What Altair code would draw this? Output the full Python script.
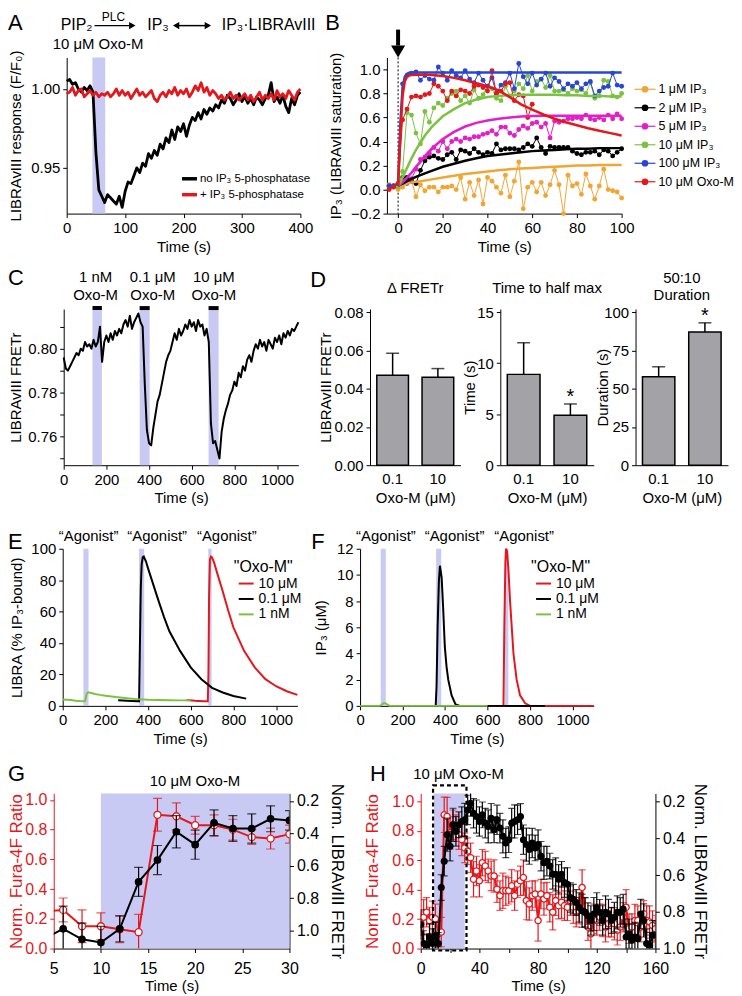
import altair as alt
import pandas as pd

FONT = "Liberation Sans"
RED = "#e2181c"
LAV = "#c9caf3"
GRAY = "#a3a3a7"
GREEN = "#7cc242"
ORANGE = "#f0a634"
MAGENTA = "#e021c6"
BLUE = "#2846d2"

# ---------------- data ----------------
A_T = list(range(0, 401, 5))
A_NO_PPT = [1.005, 1.006, 1.003, 1.004, 1.000, 0.998, 1.001, 0.999, 1.002, 0.998,
            0.960, 0.936, 0.932, 0.928, 0.933, 0.931, 0.929, 0.927, 0.932, 0.925,
            0.935, 0.941, 0.940, 0.945, 0.950, 0.947, 0.953, 0.951, 0.959, 0.956,
            0.961, 0.958, 0.965, 0.962, 0.969, 0.966, 0.974, 0.968, 0.976, 0.973,
            0.978, 0.970, 0.977, 0.982, 0.980, 0.985, 0.981, 0.987, 0.984, 0.988,
            0.986, 0.990, 0.988, 0.993, 0.991, 0.996, 0.994, 0.990, 0.993, 0.997,
            0.992, 0.995, 0.991, 0.994, 0.990, 0.995, 0.993, 0.990, 0.994, 0.996,
            1.004, 0.992, 0.995, 0.991, 0.996, 0.989, 0.985, 0.994, 0.990, 0.996,
            0.998]
A_PPT = [0.997, 0.998, 1.001, 0.996, 0.999, 1.000, 0.995, 0.997, 0.999, 0.996,
         0.998, 0.995, 0.997, 0.996, 0.998, 0.995, 0.997, 1.000, 0.996, 0.999,
         0.996, 0.998, 0.994, 0.997, 1.000, 0.996, 0.998, 0.995, 0.997, 0.999,
         0.994, 0.992, 0.996, 0.998, 0.995, 0.999, 0.997, 1.001, 0.996, 0.999,
         0.997, 1.000, 0.995, 0.998, 1.002, 0.999, 1.004, 0.998, 1.001, 0.996,
         0.999, 0.997, 0.994, 0.996, 0.993, 0.995, 0.998, 0.994, 0.996, 0.993,
         0.995, 0.997, 0.993, 0.996, 0.992, 0.995, 0.998, 0.993, 0.996, 0.994,
         0.997, 0.993, 0.999, 0.995, 0.997, 0.994, 0.999, 0.996, 0.993, 0.998,
         1.000]
A_STIM = [44, 66]

B_T = list(range(-4, 101, 2))
B_NAMES = ["1 μM IP₃", "2 μM IP₃", "5 μM IP₃", "10 μM IP₃", "100 μM IP₃", "10 μM Oxo-M"]
B_COLORS = [ORANGE, "black", MAGENTA, GREEN, BLUE, RED]
B_1UM = [0.04, 0.03, 0.00, 0.02, 0.06, 0.08, -0.06, 0.04, -0.01, 0.02,
         0.02, -0.02, 0.02, 0.02, 0.03, 0.00, 0.10, -0.08, 0.06, -0.05,
         0.08, -0.12, 0.10, 0.07, 0.02, -0.03, 0.12, -0.06, 0.07, 0.23,
         -0.16, 0.02, 0.06, -0.02, 0.06, -0.05, 0.04, 0.16, 0.04, -0.20,
         0.12, 0.03, 0.05, -0.04, 0.13, 0.03, -0.08, 0.03, 0.17, 0.00,
         -0.01, -0.02, -0.07]
B_2UM = [0.03, 0.03, 0.04, 0.10, 0.10, 0.07, 0.05, 0.16, 0.24, 0.27,
         0.28, 0.26, 0.25, 0.29, 0.31, 0.25, 0.33, 0.32, 0.30, 0.34,
         0.31, 0.29, 0.31, 0.30, 0.38, 0.33, 0.34, 0.34, 0.34, 0.33,
         0.35, 0.38, 0.36, 0.43, 0.35, 0.30, 0.36, 0.35, 0.35, 0.35,
         0.35, 0.32, 0.30, 0.29, 0.31, 0.31, 0.32, 0.29, 0.33, 0.32,
         0.28, 0.31, 0.34]
B_5UM = [0.03, 0.03, 0.05, 0.06, 0.05, 0.09, 0.17, 0.25, 0.27, 0.30,
         0.35, 0.32, 0.40, 0.34, 0.40, 0.42, 0.40, 0.43, 0.42, 0.44,
         0.44, 0.46, 0.47, 0.49, 0.46, 0.52, 0.52, 0.47, 0.45, 0.50,
         0.53, 0.51, 0.55, 0.56, 0.52, 0.55, 0.43, 0.57, 0.56, 0.57,
         0.59, 0.59, 0.60, 0.59, 0.62, 0.59, 0.58, 0.60, 0.58, 0.62,
         0.59, 0.63, 0.59]
B_10UM = [0.03, 0.03, 0.02, 0.15, 0.64, 0.62, 0.47, 0.38, 0.65, 0.56,
          0.68, 0.72, 0.70, 0.76, 0.80, 0.82, 0.74, 0.78, 0.72, 0.83,
          0.76, 0.79, 0.86, 0.84, 0.76, 0.74, 0.86, 0.78, 0.82, 0.88,
          0.84, 0.95, 0.82, 0.90, 0.92, 0.85, 0.95, 0.82, 0.82, 0.83,
          0.80, 0.84, 0.82, 0.83, 0.80, 0.89, 0.76, 0.78, 0.91, 0.90,
          0.78, 0.77, 0.80]
B_100UM = [0.03, 0.03, 0.05, 0.88, 0.95, 0.97, 0.98, 0.91, 0.95, 0.92,
           0.91, 1.02, 0.97, 0.91, 0.99, 0.95, 0.93, 0.99, 0.92, 0.89,
           0.97, 0.91, 0.86, 0.93, 0.80, 0.87, 0.89, 0.97, 0.84, 1.05,
           0.94, 0.88, 0.97, 0.87, 0.92, 0.97, 0.86, 0.93, 0.90, 0.84,
           0.88, 0.86, 0.89, 0.84, 0.88, 0.90, 0.78, 0.82, 0.85, 0.86,
           0.97, 0.87, 0.86]
B_OXO = [0.00, 0.02, 0.05, 0.58, 0.67, 0.77, 0.78, 0.77, 0.79, 0.80,
         0.88, 0.86, 0.82, 0.74, 0.82, 0.78, 0.83, 0.82, 0.80, 0.86,
         0.87, 0.85, 0.82, 0.99, 0.80, 0.82, 0.88, 0.89, 0.74, 0.79,
         0.78, 0.60, 0.71]
B_FIT_T = [0, 1, 2, 3, 4, 5, 6, 8, 10, 12, 15, 20, 25, 30, 35, 40, 45, 50, 55, 60,
           65, 70, 75, 80, 85, 90, 95, 100]
B_FIT_1UM = [0.03, 0.035, 0.04, 0.045, 0.05, 0.055, 0.06, 0.065, 0.07, 0.075,
             0.085, 0.10, 0.115, 0.13, 0.14, 0.15, 0.16, 0.17, 0.175, 0.18,
             0.185, 0.19, 0.195, 0.20, 0.20, 0.205, 0.205, 0.205]
B_FIT_2UM = [0.03, 0.04, 0.05, 0.06, 0.07, 0.08, 0.09, 0.105, 0.12, 0.135,
             0.155, 0.19, 0.215, 0.24, 0.26, 0.28, 0.29, 0.30, 0.31, 0.32,
             0.325, 0.33, 0.335, 0.34, 0.34, 0.345, 0.345, 0.345]
B_FIT_5UM = [0.03, 0.04, 0.06, 0.08, 0.10, 0.12, 0.14, 0.19, 0.23, 0.28,
             0.34, 0.42, 0.48, 0.525, 0.555, 0.575, 0.59, 0.60, 0.608, 0.612,
             0.615, 0.615, 0.615, 0.615, 0.615, 0.615, 0.615, 0.615]
B_FIT_10UM = [0.03, 0.06, 0.10, 0.14, 0.18, 0.22, 0.26, 0.33, 0.39, 0.45,
              0.52, 0.61, 0.67, 0.72, 0.75, 0.77, 0.78, 0.785, 0.79, 0.79,
              0.79, 0.79, 0.785, 0.785, 0.78, 0.78, 0.775, 0.775]
B_FIT_100UM = [0.03, 0.55, 0.85, 0.94, 0.965, 0.972, 0.975, 0.975, 0.975, 0.975,
               0.975, 0.975, 0.975, 0.975, 0.975, 0.975, 0.975, 0.975, 0.975, 0.975,
               0.975, 0.975, 0.975, 0.975, 0.975, 0.975, 0.975, 0.975]
B_FIT_OXO = [0.03, 0.45, 0.78, 0.90, 0.94, 0.95, 0.953, 0.955, 0.955, 0.955,
             0.953, 0.945, 0.93, 0.91, 0.885, 0.86, 0.825, 0.77, 0.71, 0.665,
             0.625, 0.59, 0.56, 0.535, 0.51, 0.49, 0.47, 0.45]

C_T = list(range(0, 1101, 10))
C_FRET = [0.796, 0.791, 0.790, 0.792, 0.794, 0.796, 0.798, 0.797, 0.800, 0.799,
          0.803, 0.801, 0.802, 0.800, 0.804, 0.801, 0.803, 0.810, 0.794, 0.803,
          0.806, 0.803, 0.807, 0.804, 0.808, 0.806, 0.809, 0.807, 0.811, 0.813,
          0.810, 0.815, 0.809, 0.812, 0.814, 0.816, 0.812, 0.810, 0.784, 0.763,
          0.757, 0.756, 0.764, 0.770, 0.776, 0.779, 0.784, 0.789, 0.794, 0.797,
          0.799, 0.803, 0.807, 0.804, 0.809, 0.806, 0.808, 0.811, 0.809, 0.813,
          0.810, 0.812, 0.808, 0.813, 0.810, 0.811, 0.806, 0.809, 0.803, 0.766,
          0.757, 0.758, 0.754, 0.750, 0.762, 0.768, 0.772, 0.775, 0.779, 0.781,
          0.785, 0.783, 0.789, 0.787, 0.792, 0.790, 0.795, 0.797, 0.794, 0.799,
          0.802, 0.800, 0.804, 0.801, 0.803, 0.799, 0.804, 0.802, 0.800, 0.805,
          0.803, 0.806, 0.802, 0.807, 0.805, 0.808, 0.806, 0.809, 0.808, 0.810,
          0.812]
C_STIM_START = [135, 356, 679]
C_STIM_END = [179, 403, 726]
C_STIM_LABEL = ["1 nM\nOxo-M", "0.1 μM\nOxo-M", "10 μM\nOxo-M"]

D_GROUPS = ["0.1", "10"]
D_DFRET = [0.047, 0.046]
D_DFRET_ERR = [0.0115, 0.0045]
D_THALF = [8.9, 4.9]
D_THALF_ERR = [3.1, 1.1]
D_DUR = [57.8, 87.0]
D_DUR_ERR = [6.5, 6.0]
D_SIG = ["", "*"]

E_NAMES = ["10 μM", "0.1 μM", "1 nM"]
E_COLORS = [RED, "black", GREEN]
E_10UM_T = [580, 620, 660, 680, 683, 686, 690, 695, 700, 710, 725, 750, 775, 800, 850, 900, 950, 1000, 1050, 1100]
E_10UM = [3.8, 3.2, 3.0, 3.0, 20, 70, 93, 95, 94.5, 91, 84, 73, 61, 50, 35, 24.5, 17, 12.5, 9.3, 7.0]
E_01UM_T = [260, 300, 350, 358, 362, 366, 370, 375, 380, 390, 400, 425, 450, 475, 500, 550, 600, 650, 700, 750, 800, 860]
E_01UM = [3.6, 3.3, 3.0, 3.0, 40, 75, 90, 94.5, 95, 92, 87.5, 77, 66.5, 56.5, 47.5, 35, 24.5, 17, 11.5, 8.5, 6.3, 4.6]
E_1NM_T = [0, 20, 40, 60, 80, 100, 105, 110, 115, 120, 130, 150, 175, 200, 250, 300, 350, 400, 450, 500, 550, 600]
E_1NM = [4.0, 3.9, 3.8, 3.3, 3.1, 3.0, 3.2, 6.5, 8.3, 8.7, 8.3, 7.6, 7.0, 6.5, 5.6, 4.9, 4.3, 3.9, 3.7, 3.6, 3.5, 3.5]

F_10UM_T = [600, 675, 679, 684, 687, 692, 698, 706, 714, 722, 737, 753, 777, 800, 1100]
F_10UM = [0, 0, 6, 11, 12, 11.8, 10.5, 8, 6, 4, 2, 0.8, 0.2, 0, 0]
F_01UM_T = [350, 356, 360, 365, 371, 376, 384, 391, 399, 407, 415, 431, 450, 470, 870]
F_01UM = [0, 0, 1.5, 6.0, 9.5, 10.7, 9.8, 7.5, 4.5, 3.0, 2.0, 0.8, 0.1, 0, 0]
F_1NM_T = [0, 90, 100, 110, 120, 130, 140, 600]
F_1NM = [0, 0, 0.05, 0.2, 0.2, 0.08, 0, 0]

EF_STIM_START = [97, 358, 682]
EF_STIM_END = [121, 382, 698]

G_T = list(range(4, 31, 2))
G_FURA = [0.25, 0.26, 0.15, 0.15, 0.13, 0.11, 0.90, 0.89, 0.83, 0.83, 0.80, 0.75, 0.74, 0.77]
G_FURA_ERR = [0.08, 0.08, 0.11, 0.09, 0.09, 0.12, 0.11, 0.09, 0.06, 0.07, 0.07, 0.05, 0.07, 0.06]
G_LIBRA = [1.05, 0.99, 1.055, 1.075, 0.99, 0.70, 0.565, 0.39, 0.47, 0.335, 0.37, 0.37, 0.31, 0.32]
G_LIBRA_ERR = [0.12, 0.14, 0.10, 0.10, 0.08, 0.09, 0.09, 0.10, 0.09, 0.08, 0.08, 0.09, 0.08, 0.06]
G_STIM = [10, 30]

H_T = list(range(0, 161, 2))
H_FURA = [0.169, 0.213, 0.247, 0.191, 0.213, 0.202, 0.101, 0.112, 0.910, 0.899, 0.787, 0.843, 0.820, 0.775, 0.742, 0.685,
          0.663, 0.618, 0.472, 0.528, 0.461, 0.584, 0.562, 0.528, 0.494, 0.494,
          0.404, 0.360, 0.393, 0.393, 0.393, 0.427, 0.360, 0.438, 0.461, 0.483,
          0.326, 0.303, 0.360, 0.371, 0.191,
          0.371, 0.337, 0.360, 0.281, 0.247, 0.326, 0.292, 0.315, 0.292, 0.281,
          0.326, 0.281, 0.247, 0.258, 0.416, 0.247, 0.146, 0.101, 0.202, 0.191,
          0.213, 0.191, 0.146, 0.169, 0.180, 0.169, 0.124, 0.146, 0.213, 0.281,
          0.135, 0.146, 0.191, 0.191, 0.146, 0.236, 0.191, 0.180, 0.157, 0.135]
H_FURA_ERR = [0.08, 0.12, 0.10, 0.09, 0.11, 0.10, 0.09, 0.10, 0.12, 0.13, 0.11, 0.10, 0.09, 0.10, 0.11, 0.10,
              0.09, 0.10, 0.12, 0.10, 0.11, 0.09, 0.10, 0.08, 0.10, 0.11,
              0.09, 0.10, 0.12, 0.10, 0.09, 0.11, 0.10, 0.09, 0.10, 0.12,
              0.13, 0.11, 0.10, 0.09, 0.14,
              0.10, 0.11, 0.09, 0.10, 0.12, 0.10, 0.09, 0.11, 0.10, 0.09,
              0.10, 0.11, 0.10, 0.09, 0.12, 0.10, 0.09, 0.11, 0.10, 0.10,
              0.09, 0.11, 0.10, 0.09, 0.10, 0.11, 0.10, 0.09, 0.10, 0.12,
              0.10, 0.09, 0.11, 0.10, 0.10, 0.09, 0.10, 0.11, 0.10, 0.09]
H_LIBRA = [0.869, 0.973, 0.982, 0.937, 0.973, 0.928, 0.973, 0.668, 0.524, 0.380, 0.443, 0.326, 0.362, 0.326, 0.308, 0.299,
           0.245, 0.209, 0.263, 0.281, 0.308, 0.272, 0.317, 0.335, 0.290, 0.353,
           0.299, 0.344, 0.389, 0.425, 0.407, 0.317, 0.308, 0.299, 0.281, 0.407,
           0.434, 0.461, 0.425, 0.452, 0.434,
           0.497, 0.533, 0.524, 0.551, 0.596, 0.596, 0.623, 0.596, 0.641, 0.650,
           0.722, 0.731, 0.749, 0.776, 0.794, 0.803, 0.821, 0.847, 0.812, 0.776,
           0.803, 0.847, 0.803, 0.812, 0.847, 0.829, 0.803, 0.803, 0.785, 0.937,
           0.919, 0.955, 0.937, 0.946, 0.812, 0.847, 0.973, 0.982, 0.928, 0.928]
H_LIBRA_ERR = [0.08, 0.07, 0.06, 0.07, 0.08, 0.07, 0.06, 0.07, 0.08, 0.09, 0.08, 0.09, 0.08, 0.07, 0.08, 0.09,
               0.08, 0.07, 0.08, 0.09, 0.08, 0.07, 0.08, 0.09, 0.08, 0.07,
               0.08, 0.08, 0.09, 0.08, 0.07, 0.08, 0.09, 0.08, 0.07, 0.08,
               0.09, 0.08, 0.08, 0.07, 0.08,
               0.08, 0.09, 0.08, 0.07, 0.08, 0.09, 0.08, 0.07, 0.08, 0.09,
               0.08, 0.08, 0.07, 0.08, 0.09, 0.08, 0.07, 0.08, 0.09, 0.08,
               0.07, 0.08, 0.09, 0.08, 0.07, 0.08, 0.09, 0.08, 0.08, 0.07,
               0.08, 0.09, 0.08, 0.07, 0.08, 0.09, 0.08, 0.07, 0.08, 0.08]
H_STIM = [9, 30]
H_BOX = [8.4, 31.2]

# ---------------- helpers ----------------
ONE = pd.DataFrame({"k": [0]})


def txt(s, x, y, size=15, align="left", baseline="middle", color="black", **kw):
    return alt.Chart(ONE).mark_text(text=s, align=align, baseline=baseline, fontSize=size,
                                    font=FONT, color=color, **kw).encode(x=alt.value(x), y=alt.value(y))


def letter(s, x, y):
    return txt(s, x, y, size=22, baseline="top")


def seg(x1, y1, x2, y2, width=1.0, color="black", **kw):
    return alt.Chart(ONE).mark_rule(strokeWidth=width, color=color, **kw).encode(
        x=alt.value(x1), x2=alt.value(x2), y=alt.value(y1), y2=alt.value(y2))


def tri(x, y, shape, size):
    return alt.Chart(ONE).mark_point(shape=shape, filled=True, size=size, color="black",
                                     opacity=1).encode(x=alt.value(x), y=alt.value(y))


def shade(starts, ends, X, h):
    df = pd.DataFrame({"s": starts, "e": ends})
    return alt.Chart(df).mark_rect(color=LAV).encode(x=alt.X("s:Q", **X), x2="e:Q",
                                                       y=alt.value(0), y2=alt.value(h))


def spacer(w, h=1):
    return alt.Chart(ONE).mark_point(opacity=0).encode(x=alt.value(0), y=alt.value(0)).properties(width=w, height=h)


def yaxis(title, values, fmt, tx, **kw):
    return alt.Axis(title=title, values=values, format=fmt, titleX=tx, titleBaseline="middle", **kw)


# ---------------- Panel A ----------------
WA, HA = 235, 157
XA = dict(scale=alt.Scale(domain=[0, 400], nice=False),
          axis=alt.Axis(values=[0, 100, 200, 300, 400], format="d", title="Time (s)"))
YA = dict(scale=alt.Scale(domain=[0.921, 1.02], nice=False, zero=False),
          axis=yaxis("LIBRAvIII response (F/F₀)", [0.95, 1.0], ".2f", -51))
a_df = pd.DataFrame({"t": A_T + A_T, "v": A_NO_PPT + A_PPT,
                     "s": ["no"] * len(A_T) + ["ppt"] * len(A_T)})
a_lines = alt.Chart(a_df).mark_line(strokeWidth=2.8, strokeJoin="round").encode(
    x=alt.X("t:Q", **XA), y=alt.Y("v:Q", **YA), detail="s:N",
    color=alt.Color("s:N", scale=alt.Scale(domain=["no", "ppt"], range=["black", RED]), legend=None))
panelA = alt.layer(
    shade([A_STIM[0]], [A_STIM[1]], XA, HA),
    a_lines,
    seg(116, 122, 131, 122, width=3.5),
    txt("no IP₃ 5-phosphatase", 134, 122, size=11.5),
    seg(116, 138, 131, 138, width=3.5, color=RED),
    txt("+ IP₃ 5-phosphatase", 134, 138, size=11.5),
    letter("A", -59, -45),
    txt("PIP₂", -6, -33, size=16),
    seg(28, -32, 64, -32, width=1.5), tri(66, -32, "triangle-right", 55),
    txt("PLC", 47, -46, size=12, align="center", baseline="top"),
    txt("IP₃", 81, -33, size=16),
    seg(112, -32, 140, -32, width=1.5), tri(110, -32, "triangle-left", 55), tri(142, -32, "triangle-right", 55),
    txt("IP₃·LIBRAvIII", 156, -33, size=16),
    txt("10 μM Oxo-M", -14, -13, size=15),
).properties(width=WA, height=HA)

# ---------------- Panel B ----------------
WB, HB = 236, 157
XB = dict(scale=alt.Scale(domain=[-5, 100], nice=False),
          axis=alt.Axis(values=[0, 20, 40, 60, 80, 100], format="d", title="Time (s)"))
YB = dict(scale=alt.Scale(domain=[-0.2, 1.1], nice=False, zero=False),
          axis=yaxis("IP₃ (LIBRAvIII saturation)", [-0.2, 0, 0.2, 0.4, 0.6, 0.8, 1.0], ".1f", -52))
b_layers = []
zero_df = pd.DataFrame({"t": [0]})
b_layers.append(alt.Chart(zero_df).mark_rule(strokeDash=[2, 2], strokeWidth=1, color="black").encode(
    x=alt.X("t:Q", **XB), y=alt.value(0), y2=alt.value(HB)))
for col, vals in zip(B_COLORS, [B_1UM, B_2UM, B_5UM, B_10UM, B_100UM, B_OXO]):
    df = pd.DataFrame({"t": B_T[:len(vals)], "v": vals})
    base = alt.Chart(df)
    b_layers.append(base.mark_line(color=col, strokeWidth=1).encode(x=alt.X("t:Q", **XB), y=alt.Y("v:Q", **YB)))
    b_layers.append(base.mark_circle(color=col, size=24, opacity=1).encode(x=alt.X("t:Q", **XB), y=alt.Y("v:Q", **YB)))
for col, vals in zip(B_COLORS, [B_FIT_1UM, B_FIT_2UM, B_FIT_5UM, B_FIT_10UM, B_FIT_100UM, B_FIT_OXO]):
    df = pd.DataFrame({"t": B_FIT_T, "v": vals})
    b_layers.append(alt.Chart(df).mark_line(color=col, strokeWidth=2.5).encode(
        x=alt.X("t:Q", **XB), y=alt.Y("v:Q", **YB)))
b_layers.append(alt.Chart(zero_df).mark_rule(strokeWidth=4, color="black").encode(
    x=alt.X("t:Q", **XB), y=alt.value(-28), y2=alt.value(-12)))
b_layers.append(alt.Chart(zero_df).mark_point(shape="triangle-down", filled=True, size=200, color="black", opacity=1).encode(
    x=alt.X("t:Q", **XB), y=alt.value(-6)))
for i, (name, col) in enumerate(zip(B_NAMES, B_COLORS)):
    yy = 32 + i * 18.6
    b_layers.append(seg(249, yy, 270, yy, width=1.2, color=col))
    b_layers.append(alt.Chart(ONE).mark_circle(color=col, size=45, opacity=1).encode(x=alt.value(259.5), y=alt.value(yy)))
    b_layers.append(txt(name, 273, yy, size=12.5))
b_layers.append(letter("B", -62, -45))
panelB = alt.layer(*b_layers).properties(width=WB, height=HB)

# ---------------- Panel C ----------------
WC, HC = 236, 157
XC = dict(scale=alt.Scale(domain=[0, 1100], nice=False),
          axis=alt.Axis(values=[0, 200, 400, 600, 800, 1000], format="d", title="Time (s)"))
YC = dict(scale=alt.Scale(domain=[0.747, 0.818], nice=False, zero=False),
          axis=alt.Axis(title="LIBRAvIII FRETr", values=[0.75, 0.76, 0.77, 0.78, 0.79, 0.80, 0.81],
                        labelExpr="(round(datum.value*100) % 2 == 0) ? format(datum.value, '.2f') : ''",
                        titleX=-48, titleBaseline="middle"))
c_stim = pd.DataFrame({"s": C_STIM_START, "e": C_STIM_END})
c_layers = [
    shade(C_STIM_START, C_STIM_END, XC, HC),
    alt.Chart(pd.DataFrame({"t": C_T, "v": C_FRET})).mark_line(color="black", strokeWidth=2, strokeJoin="round").encode(
        x=alt.X("t:Q", **XC), y=alt.Y("v:Q", **YC)),
    alt.Chart(c_stim).mark_rect(color="black").encode(x=alt.X("s:Q", **XC), x2="e:Q", y=alt.value(-3), y2=alt.value(1)),
    letter("C", -56, -41),
]
for lab, cx in zip(C_STIM_LABEL, [32, 89.5, 151]):
    c_layers.append(txt(lab, cx, -32, size=15, align="center", lineBreak="\n", lineHeight=18))
panelC = alt.layer(*c_layers).properties(width=WC, height=HC)


# ---------------- Panel D ----------------
def dpanel(vals, errs, dom, ticks, fmt, ytitle, tx, w, title_lines, title_y, star=True, extra=None):
    df = pd.DataFrame({"g": D_GROUPS, "m": vals, "err": errs, "st": D_SIG if star else ["", ""]})
    df["hi"] = df["m"] + df["err"]
    X = dict(scale=alt.Scale(domain=D_GROUPS, paddingInner=0.3, paddingOuter=0.15),
             axis=alt.Axis(title="Oxo-M (μM)", labelAngle=0, ticks=False, labelPadding=6, titlePadding=5))
    Y = dict(scale=alt.Scale(domain=dom, nice=False, zero=True),
             axis=yaxis(ytitle, ticks, fmt, tx))
    base = alt.Chart(df)
    layers = [
        base.mark_rule(strokeWidth=1.5, color="black").encode(x=alt.X("g:N", **X), y=alt.Y("m:Q", **Y), y2="hi:Q"),
        base.mark_tick(orient="horizontal", size=13, thickness=1.5, color="black").encode(
            x=alt.X("g:N", **X), y=alt.Y("hi:Q", **Y)),
        base.mark_bar(fill=GRAY, stroke="black", strokeWidth=1.5).encode(x=alt.X("g:N", **X), y=alt.Y("m:Q", **Y)),
        base.mark_text(fontSize=20, font=FONT, baseline="alphabetic", dy=-1, color="black").encode(
            x=alt.X("g:N", **X), y=alt.Y("hi:Q", **Y), text="st:N"),
        txt(title_lines, w / 2, title_y, size=15, align="center", baseline="middle", lineBreak="\n", lineHeight=17),
    ]
    if extra is not None:
        layers.append(extra)
    return alt.layer(*layers).properties(width=w, height=157)


panelD1 = dpanel(D_DFRET, D_DFRET_ERR, [0, 0.0816], [0, 0.02, 0.04, 0.06, 0.08], ".2f",
                 "LIBRAvIII FRETr", -45, 91, "Δ FRETr", -21, star=False, extra=letter("D", -60, -39))
panelD2 = dpanel(D_THALF, D_THALF_ERR, [0, 15.3], [0, 5, 10, 15], "d", "Time (s)", -31, 94,
                 "Time to half max", -21)
panelD3 = dpanel(D_DUR, D_DUR_ERR, [0, 102], [0, 25, 50, 75, 100], "d", "Duration (s)", -33, 93,
                 "50:10\nDuration", -31)

# ---------------- Panels E / F ----------------


def ef_panel(series, dom, ticks, ytitle, tx, w, h, let, let_x):
    X = dict(scale=alt.Scale(domain=[0, 1100], nice=False),
             axis=alt.Axis(values=[0, 200, 400, 600, 800, 1000], format="d", title="Time (s)"))
    Y = dict(scale=alt.Scale(domain=dom, nice=False, zero=True), axis=yaxis(ytitle, ticks, "d", tx))
    layers = [shade(EF_STIM_START, EF_STIM_END, X, h)]
    for col, (ts, vs) in zip(E_COLORS, series):
        layers.append(alt.Chart(pd.DataFrame({"t": ts, "v": vs})).mark_line(color=col, strokeWidth=2).encode(
            x=alt.X("t:Q", **X), y=alt.Y("v:Q", **Y)))
    for cx in [26, 95, 165]:
        layers.append(txt("“Agonist”", cx, -13, size=15, align="center"))
    layers.append(txt('"Oxo-M"', 172, 18, size=16))
    for i, (name, col) in enumerate(zip(E_NAMES, E_COLORS)):
        yy = 35 + i * 15.5
        layers.append(seg(177, yy, 192, yy, width=2, color=col))
        layers.append(txt(name, 197, yy, size=14))
    layers.append(letter(let, let_x, -17))
    return alt.layer(*layers).properties(width=w, height=h)


panelE = ef_panel([(E_10UM_T, E_10UM), (E_01UM_T, E_01UM), (E_1NM_T, E_1NM)], [0, 100],
                  [0, 20, 40, 60, 80, 100], "LIBRA (% IP₃-bound)", -46, 236, 158, "E", -55)
panelF = ef_panel([(F_10UM_T, F_10UM), (F_01UM_T, F_01UM), (F_1NM_T, F_1NM)], [0, 12],
                  [0, 2, 4, 6, 8, 10, 12], "IP₃ (μM)", -40, 235, 158, "F", -49)


# ---------------- Panels G / H ----------------
def gh_panel(t, fura, fura_err, libra, libra_err, xdom, xvals, xexpr, ldom, rdom, rvals, w, h,
             stim, ltx, rtx, let, let_x, title_x, title_y, box=None, rsize=50, lsize=45, cap=8):
    df = pd.DataFrame({"t": t, "r": fura, "re": fura_err, "b": libra, "be": libra_err})
    df["rlo"] = df["r"] - df["re"]
    df["rhi"] = df["r"] + df["re"]
    df["blo"] = df["b"] - df["be"]
    df["bhi"] = df["b"] + df["be"]
    X = dict(scale=alt.Scale(domain=xdom, nice=False),
             axis=alt.Axis(values=xvals, labelExpr=xexpr, title="Time (s)", labelPadding=8, titlePadding=2,
                           labelFontSize=16, titleFontSize=15))
    YL = dict(scale=alt.Scale(domain=ldom, nice=False, zero=False),
              axis=alt.Axis(title="Norm. Fura-4F Ratio", values=[0, 0.2, 0.4, 0.6, 0.8, 1.0], format=".1f",
                            titleX=ltx, titleBaseline="middle", titleColor=RED, labelColor=RED, tickColor=RED,
                            domainColor=RED, labelFontSize=16, titleFontSize=17, orient="left"))
    YR = dict(scale=alt.Scale(domain=rdom, nice=False, zero=False, reverse=True),
              axis=alt.Axis(title="Norm. LIBRAvIII FRETr", values=rvals, format=".1f", titleX=rtx,
                            titleBaseline="middle", labelFontSize=16, titleFontSize=17, orient="right"))
    base = alt.Chart(df)
    xe = alt.X("t:Q", **X)
    left = alt.layer(
        shade([stim[0]], [stim[1]], X, h),
        base.mark_rule(color=RED, strokeWidth=1.2, clip=True).encode(x=xe, y=alt.Y("rlo:Q", **YL), y2="rhi:Q"),
        base.mark_tick(color=RED, orient="horizontal", size=cap, thickness=1.2, clip=True).encode(x=xe, y=alt.Y("rlo:Q", **YL)),
        base.mark_tick(color=RED, orient="horizontal", size=cap, thickness=1.2, clip=True).encode(x=xe, y=alt.Y("rhi:Q", **YL)),
        base.mark_line(color=RED, strokeWidth=2, clip=True).encode(x=xe, y=alt.Y("r:Q", **YL)),
        base.mark_point(shape="circle", filled=True, fill="white", stroke=RED, strokeWidth=1.3, size=lsize,
                        opacity=1, clip=True).encode(x=xe, y=alt.Y("r:Q", **YL)),
    )
    right = alt.layer(
        base.mark_rule(color="black", strokeWidth=1.2, clip=True).encode(x=xe, y=alt.Y("blo:Q", **YR), y2="bhi:Q"),
        base.mark_tick(color="black", orient="horizontal", size=cap, thickness=1.2, clip=True).encode(x=xe, y=alt.Y("blo:Q", **YR)),
        base.mark_tick(color="black", orient="horizontal", size=cap, thickness=1.2, clip=True).encode(x=xe, y=alt.Y("bhi:Q", **YR)),
        base.mark_line(color="black", strokeWidth=2, clip=True).encode(x=xe, y=alt.Y("b:Q", **YR)),
        base.mark_circle(color="black", size=rsize, opacity=1, clip=True).encode(x=xe, y=alt.Y("b:Q", **YR)),
    )
    layers = [left, right]
    if box is not None:
        layers.append(alt.Chart(pd.DataFrame({"s": [box[0]], "e": [box[1]]})).mark_rect(
            filled=False, color="black", strokeDash=[4, 3], strokeWidth=2.2).encode(
            x=alt.X("s:Q", **X), x2="e:Q", y=alt.value(-8), y2=alt.value(h + 2)))
    layers.append(txt("10 μM Oxo-M", title_x, title_y, size=15, align="center"))
    layers.append(letter(let, let_x, -29))
    return alt.layer(*layers).resolve_scale(y="independent").properties(width=w, height=h)


panelG = gh_panel(G_T, G_FURA, G_FURA_ERR, G_LIBRA, G_LIBRA_ERR, [5, 30], [5, 10, 15, 20, 25, 30],
                  "datum.label", [0, 1.044], [0.153, 1.112], [0.2, 0.4, 0.6, 0.8, 1.0], 237, 156,
                  G_STIM, -37, 47, "G", -46, 142, -12, rsize=60, lsize=50, cap=9)
panelH = gh_panel(H_T, H_FURA, H_FURA_ERR, H_LIBRA, H_LIBRA_ERR, [0, 160], list(range(0, 161, 20)),
                  "datum.value % 40 == 0 ? datum.label : ''", [0, 1.056], [0.155, 1.0],
                  [0.2, 0.4, 0.6, 0.8, 1.0], 236, 156, H_STIM, -48, 44, "H", -51, 38, -19,
                  box=H_BOX, rsize=50, lsize=40, cap=7)

# ---------------- layout ----------------
# rows share a common origin; a leading spacer gives each row its own left offset
row1 = alt.hconcat(spacer(13), panelA, spacer(87), panelB, spacing=0, bounds="flush")
row2 = alt.hconcat(spacer(10), panelC, spacer(72), panelD1, spacer(40), panelD2, spacer(42), panelD3,
                   spacing=0, bounds="flush")
row3 = alt.hconcat(spacer(9), panelE, spacer(63), panelF, spacing=0, bounds="flush")
row4 = alt.hconcat(panelG, spacer(132), panelH, spacing=0, bounds="flush")

chart = alt.vconcat(
    alt.vconcat(row1, row2, spacing=13),
    alt.vconcat(row3, row4, spacing=17),
    spacing=23, padding=0, background="white",
).configure_view(stroke=None).configure_axis(
    labelFont=FONT, titleFont=FONT, labelFontSize=15, titleFontSize=15, titleFontWeight="normal",
    grid=False, tickSize=4, labelPadding=3, titlePadding=4, domainColor="black", tickColor="black",
    labelColor="black", titleColor="black", labelFlush=False, labelOverlap=False,
).configure_text(font=FONT)

chart.save("out.html", embed_options={"renderer": "svg", "actions": False})
